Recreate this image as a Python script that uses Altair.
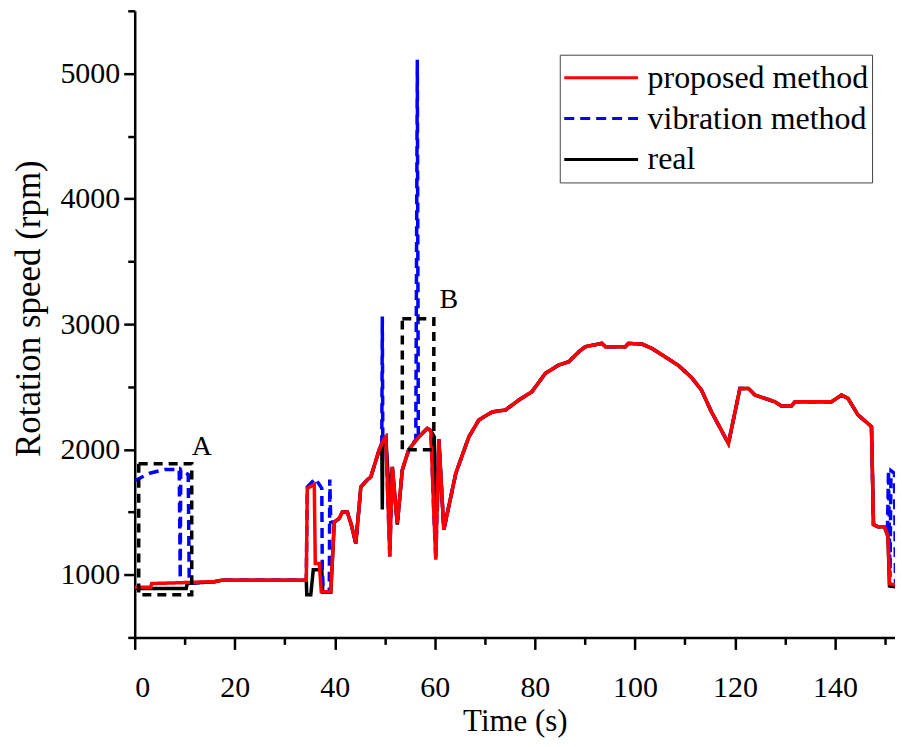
import altair as alt
import pandas as pd

SERIES = ["proposed method", "vibration method", "real"]
COLORS = ["#ff0000", "#0000ff", "#000000"]
DASHES = [[1, 0], [10, 6], [1, 0]]

# shared segment (all three methods coincide here)
mid_t = [61.8, 64.2, 66.8, 68.8, 71.5, 74.1, 76.8, 79.4, 82.1, 84.8, 86.8, 88.8,
         90.1, 93.4, 94.1, 98.1, 98.7, 101.4, 103.4, 106.0, 108.7, 111.3, 113.3,
         115.3, 118.7, 121.0, 122.7, 124.0, 126.0, 128.0, 129.3, 131.3, 132.0,
         139.3, 141.3, 142.6, 144.6, 146.6, 147.3]
mid_v = [1360, 1810, 2100, 2235, 2300, 2314, 2394, 2460, 2607, 2674, 2700, 2780,
         2820, 2846, 2820, 2820, 2846, 2841, 2806, 2740, 2670, 2575, 2474,
         2300, 2048, 2487, 2487, 2434, 2407, 2380, 2346, 2346, 2380,
         2380, 2434, 2407, 2275, 2207, 2181]

# proposed method
prop_head_t = [0, 3.2, 3.4, 8, 16, 17.5, 34.3, 34.5, 35.9, 36.1, 36.9, 37.3, 39.2,
               39.9, 40.9, 41.5, 42.5, 43.3, 44.2, 44.9, 45.2, 46.5, 47.2, 48.9,
               49.9, 50.2, 51.0, 51.5, 52.5, 53.5, 54.8, 56.8, 58.5, 59.2, 59.8,
               60.2, 60.8]
prop_head_v = [900, 900, 930, 935, 945, 957, 957, 1690, 1720, 1090, 1090, 865, 865,
               1420, 1450, 1500, 1500, 1400, 1250, 1560, 1700, 1758, 1780, 2000,
               2088, 2100, 1145, 1860, 1410, 1836, 2000, 2100, 2168, 2150, 1490,
               1120, 2080]
prop_tail_t = [147.7, 148.6, 149.9, 150.6, 150.9, 153]
prop_tail_v = [1400, 1383, 1383, 1303, 930, 905]

# vibration method
vib_head_t = [0, 3, 6, 8.9, 9.1, 9.2, 10.7, 10.9, 11.3, 16, 17.5, 34.3, 34.5, 36.1,
              37.4, 37.5, 37.7, 38.9, 39.0, 39.2, 39.9, 40.9, 41.5, 42.5, 43.3,
              44.2, 44.9, 45.2, 46.5, 47.2, 48.9, 49.4, 49.5, 49.6, 49.9, 50.2,
              51.0, 51.5, 52.5, 53.5, 54.8, 56.2, 56.5, 56.7, 56.8, 58.5, 59.2,
              59.8, 60.2, 60.8]
vib_head_v = [1750, 1810, 1840, 1840, 970, 1840, 1800, 950, 935, 945, 957, 957, 1700,
              1768, 1690, 1050, 865, 865, 1760, 1420, 1420, 1450, 1500, 1500, 1400,
              1250, 1560, 1700, 1758, 1780, 2000, 2050, 3060, 2070, 2088, 2100,
              1145, 1860, 1410, 1836, 2000, 2080, 5110, 2110, 2100, 2168, 2150,
              1490, 1120, 2080]
vib_tail_t = [147.7, 148.6, 149.9, 150.5, 150.7, 151.0, 151.2, 151.9, 152.1, 153]
vib_tail_v = [1400, 1383, 1383, 1370, 1830, 980, 1830, 1810, 940, 905]

# real
real_head_t = [0, 10.3, 10.5, 16, 17.5, 34.3, 34.4, 35.2, 35.7, 37.4, 37.6, 39.2,
               39.9, 40.9, 41.5, 42.5, 43.3, 44.2, 44.9, 45.2, 46.5, 47.2, 48.9,
               49.4, 49.5, 49.6, 49.9, 50.2, 51.0, 51.5, 52.5, 53.5, 54.8, 56.8,
               58.5, 59.2, 59.9, 60.0, 60.5, 60.8]
real_head_v = [890, 890, 930, 945, 957, 957, 840, 840, 1040, 1040, 860, 860,
               1420, 1450, 1500, 1500, 1400, 1250, 1560, 1700, 1758, 1780, 2000,
               2050, 1520, 2060, 2088, 2100, 1560, 1860, 1400, 1836, 2000, 2100,
               2168, 2150, 2100, 1520, 1520, 2080]
real_tail_t = [147.7, 148.6, 149.9, 150.6, 150.9, 153]
real_tail_v = [1400, 1383, 1383, 1303, 910, 900]

# annotation boxes and labels
box_t1 = [0.8, 53.5]
box_t2 = [11.4, 59.8]
box_v1 = [840, 1997]
box_v2 = [1886, 3043]
lab_t = [13.4, 62.8]
lab_v = [2020, 3195]
lab_txt = ["A", "B"]

rows = []
for name, ts, vs in [
    ("real", real_head_t + mid_t + real_tail_t, real_head_v + mid_v + real_tail_v),
    ("vibration method", vib_head_t + mid_t + vib_tail_t, vib_head_v + mid_v + vib_tail_v),
    ("proposed method", prop_head_t + mid_t + prop_tail_t, prop_head_v + mid_v + prop_tail_v),
]:
    for i, (t, v) in enumerate(zip(ts, vs)):
        rows.append({"series": name, "t": t, "v": v, "idx": i})
df = pd.DataFrame(rows)

boxes = pd.DataFrame({"t1": box_t1, "t2": box_t2, "v1": box_v1, "v2": box_v2})
labels = pd.DataFrame({"t": lab_t, "v": lab_v, "txt": lab_txt})

FONT = "Liberation Serif"

xscale = alt.Scale(domain=[0, 152], nice=False, zero=False)
yscale = alt.Scale(domain=[500, 5500], nice=False, zero=False)

xaxis = alt.Axis(
    values=list(range(0, 151, 10)),
    labelExpr="datum.value % 20 === 0 ? datum.label : ''",
    tickSize={"condition": {"test": "datum.value % 20 === 0", "value": 12}, "value": 7},
    labelPadding=23, titlePadding=4, title="Time (s)",
    grid=False, format="d",
)
yaxis = alt.Axis(
    values=list(range(500, 5501, 500)),
    labelExpr="datum.value % 1000 === 0 ? datum.label : ''",
    tickSize={"condition": {"test": "datum.value % 1000 === 0", "value": 11}, "value": 7},
    labelPadding=4, titlePadding=13, title="Rotation speed (rpm)", titleY=298,
    grid=False, format="d",
)

color = alt.Color("series:N", scale=alt.Scale(domain=SERIES, range=COLORS), title=None)
dash = alt.StrokeDash("series:N", scale=alt.Scale(domain=SERIES, range=DASHES), title=None)

base = alt.Chart(df).mark_line(strokeWidth=3.5, clip=True).encode(
    x=alt.X("t:Q", scale=xscale, axis=xaxis),
    y=alt.Y("v:Q", scale=yscale, axis=yaxis),
    color=color,
    strokeDash=dash,
    order=alt.Order("idx:Q"),
)

real_l = base.transform_filter(alt.datum.series == "real")
vib_l = base.transform_filter(alt.datum.series == "vibration method")
prop_l = base.transform_filter(alt.datum.series == "proposed method")

box_l = alt.Chart(boxes).mark_rect(
    fillOpacity=0, stroke="black", strokeWidth=3.5, strokeDash=[9, 6]
).encode(
    x=alt.X("t1:Q", scale=xscale), x2="t2:Q",
    y=alt.Y("v1:Q", scale=yscale), y2="v2:Q",
)

text_l = alt.Chart(labels).mark_text(font=FONT, fontSize=28, color="black").encode(
    x=alt.X("t:Q", scale=xscale), y=alt.Y("v:Q", scale=yscale), text="txt:N"
)

chart = alt.layer(real_l, vib_l, prop_l, box_l, text_l).properties(
    width=762, height=628,
    autosize=alt.AutoSizeParams(type="none"),
    padding={"left": 127, "top": 2, "right": 0, "bottom": 101},
).configure_view(stroke=None).configure_axis(
    labelFont=FONT, labelFontSize=30, labelColor="black",
    titleFont=FONT, titleFontSize=31, titleFontWeight="normal", titleColor="black",
    domainColor="black", domainWidth=2.5, tickColor="black", tickWidth=2.5,
).configure_axisY(titleFontSize=35).configure_legend(
    orient="none", legendX=426, legendY=44,
    strokeColor="#444", fillColor="white", padding=3,
    symbolType="stroke", symbolSize=5476, symbolStrokeWidth=3,
    labelFont=FONT, labelFontSize=32, labelColor="black", labelOffset=8,
    clipHeight=40, rowPadding=1, labelLimit=400,
)

chart.save("out.html", embed_options={"renderer": "svg", "actions": False})
